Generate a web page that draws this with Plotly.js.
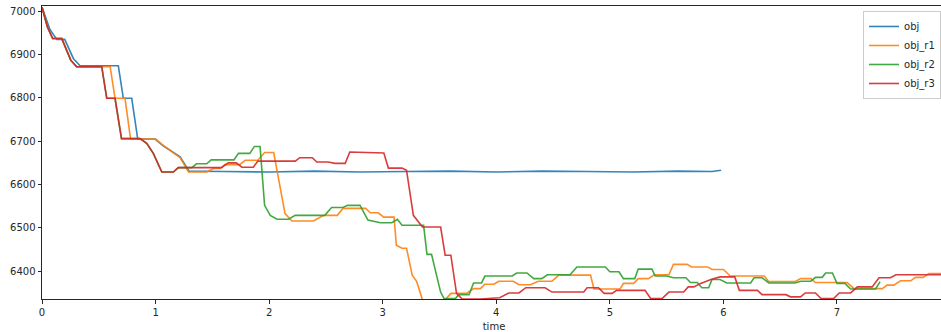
<!DOCTYPE html>
<html>
<head>
<meta charset="utf-8">
<script src="https://cdn.plot.ly/plotly-3.0.1.min.js"></script>
<style>
html,body{margin:0;padding:0;overflow:hidden;background:#fff;}
#chart{width:946px;height:332px;}
</style>
</head>
<body>
<div id="chart"></div>
<script>
// series names
const seriesNames = ["obj", "obj_r1", "obj_r2", "obj_r3"];
const seriesColors = ["#1f77b4", "#ff7f0e", "#2ca02c", "#d62728"];

// obj
const objT = [0, 0.07, 0.13, 0.2, 0.276, 0.335, 0.672, 0.716, 0.79, 0.843, 0.996, 1.07, 1.216, 1.295, 1.6, 2.0, 2.4, 2.8, 3.2, 3.6, 4.0, 4.4, 4.8, 5.2, 5.6, 5.9, 5.98];
const objV = [7009, 6958, 6935, 6935, 6891, 6874, 6874, 6799, 6799, 6705, 6705, 6689, 6664, 6631, 6630, 6629, 6631, 6629, 6630, 6631, 6629, 6631, 6630, 6629, 6631, 6630, 6633];

// obj_r1
const r1T = [0, 0.047, 0.094, 0.174, 0.253, 0.305, 0.6, 0.643, 0.731, 0.78, 1.0, 1.07, 1.216, 1.29, 1.45, 1.51, 1.57, 1.61, 1.74, 1.79, 1.9, 1.96, 2.04, 2.14, 2.2, 2.39, 2.48, 2.6, 2.65, 2.85, 2.89, 2.96, 3.01, 3.1, 3.12, 3.17, 3.21, 3.26, 3.3, 3.35, 3.55, 3.6, 3.74, 3.8, 3.86, 3.9, 3.98, 4.02, 4.15, 4.2, 4.3, 4.37, 4.49, 4.55, 4.83, 4.86, 5.09, 5.12, 5.21, 5.25, 5.34, 5.39, 5.52, 5.56, 5.68, 5.72, 5.86, 5.9, 6.0, 6.06, 6.36, 6.4, 6.63, 6.68, 6.77, 6.81, 7.09, 7.15, 7.4, 7.44, 7.5, 7.56, 7.65, 7.69, 7.76, 7.81, 7.96];
const r1V = [7009, 6964, 6937, 6937, 6887, 6872, 6872, 6799, 6799, 6705, 6705, 6690, 6662, 6629, 6629, 6637, 6637, 6646, 6646, 6656, 6656, 6674, 6674, 6533, 6516, 6516, 6529, 6529, 6545, 6545, 6535, 6535, 6525, 6525, 6460, 6453, 6453, 6391, 6376, 6334, 6334, 6349, 6349, 6360, 6360, 6370, 6370, 6377, 6377, 6369, 6369, 6377, 6377, 6391, 6391, 6359, 6359, 6372, 6372, 6383, 6383, 6392, 6392, 6416, 6416, 6410, 6410, 6404, 6404, 6389, 6389, 6376, 6376, 6383, 6383, 6374, 6374, 6360, 6360, 6368, 6368, 6378, 6378, 6386, 6386, 6395, 6395];

// obj_r2
const r2T = [0, 0.047, 0.094, 0.174, 0.253, 0.305, 0.526, 0.57, 0.643, 0.7, 0.863, 0.922, 0.98, 1.055, 1.157, 1.2, 1.32, 1.36, 1.45, 1.49, 1.69, 1.73, 1.83, 1.87, 1.92, 1.96, 2.01, 2.07, 2.17, 2.23, 2.49, 2.55, 2.65, 2.69, 2.8, 2.87, 2.98, 3.08, 3.13, 3.17, 3.36, 3.39, 3.43, 3.51, 3.54, 3.64, 3.67, 3.76, 3.8, 3.87, 3.9, 4.14, 4.18, 4.27, 4.33, 4.4, 4.45, 4.65, 4.71, 4.96, 5.0, 5.08, 5.12, 5.22, 5.25, 5.37, 5.4, 5.5, 5.56, 5.67, 5.71, 5.77, 5.81, 5.87, 5.9, 5.97, 6.03, 6.24, 6.27, 6.34, 6.4, 6.63, 6.68, 6.77, 6.81, 6.87, 6.9, 6.96, 7.0, 7.07, 7.12, 7.34, 7.38];
const r2V = [7009, 6964, 6937, 6937, 6887, 6872, 6872, 6799, 6799, 6706, 6706, 6695, 6672, 6629, 6629, 6639, 6639, 6648, 6648, 6657, 6657, 6672, 6672, 6688, 6688, 6552, 6529, 6520, 6520, 6529, 6529, 6547, 6547, 6552, 6552, 6518, 6512, 6512, 6520, 6506, 6506, 6439, 6439, 6352, 6337, 6337, 6346, 6346, 6373, 6373, 6389, 6389, 6396, 6396, 6383, 6383, 6392, 6392, 6410, 6410, 6399, 6399, 6383, 6383, 6405, 6405, 6389, 6389, 6385, 6385, 6374, 6374, 6362, 6362, 6381, 6381, 6373, 6373, 6385, 6385, 6373, 6373, 6377, 6377, 6386, 6386, 6396, 6396, 6372, 6372, 6359, 6359, 6376];

// obj_r3
const r3T = [0, 0.047, 0.094, 0.174, 0.253, 0.305, 0.526, 0.57, 0.643, 0.7, 0.863, 0.922, 0.98, 1.055, 1.157, 1.2, 1.58, 1.64, 1.71, 1.76, 1.86, 1.9, 2.23, 2.27, 2.38, 2.42, 2.52, 2.58, 2.67, 2.71, 3.01, 3.05, 3.17, 3.21, 3.27, 3.35, 3.51, 3.55, 3.6, 3.65, 3.7, 3.86, 4.03, 4.11, 4.2, 4.26, 4.43, 4.49, 4.77, 4.8, 4.9, 4.95, 5.02, 5.06, 5.31, 5.36, 5.46, 5.52, 5.65, 5.69, 5.74, 5.8, 5.89, 5.97, 6.1, 6.14, 6.3, 6.34, 6.55, 6.59, 6.68, 6.72, 6.81, 6.86, 6.97, 7.02, 7.12, 7.18, 7.31, 7.37, 7.47, 7.52, 7.96];
const r3V = [7009, 6964, 6937, 6937, 6887, 6872, 6872, 6799, 6799, 6706, 6706, 6695, 6672, 6629, 6629, 6639, 6639, 6650, 6650, 6640, 6640, 6654, 6654, 6662, 6662, 6652, 6652, 6649, 6649, 6675, 6673, 6638, 6638, 6633, 6529, 6502, 6502, 6437, 6437, 6349, 6336, 6336, 6339, 6350, 6350, 6362, 6362, 6352, 6352, 6362, 6362, 6349, 6349, 6356, 6356, 6337, 6337, 6352, 6352, 6364, 6364, 6372, 6381, 6387, 6387, 6356, 6356, 6346, 6346, 6341, 6341, 6350, 6350, 6337, 6337, 6350, 6350, 6364, 6364, 6385, 6385, 6392, 6392];

const xs = [objT, r1T, r2T, r3T];
const ys = [objV, r1V, r2V, r3V];

const traces = seriesNames.map((n, i) => ({
  type: "scatter", mode: "lines", name: n,
  x: xs[i], y: ys[i],
  line: {color: seriesColors[i], width: 1.6},
  opacity: 0.9
}));

const axisFont = {family: "DejaVu Sans, sans-serif", size: 10, color: "#262626"};

const layout = {
  width: 946, height: 332,
  margin: {l: 42, r: 0, t: 6, b: 33},
  paper_bgcolor: "#fff", plot_bgcolor: "#fff",
  font: axisFont,
  showlegend: true,
  legend: {
    x: 0.9945, xanchor: "right", y: 0.983, yanchor: "top",
    bgcolor: "rgba(255,255,255,0.8)", bordercolor: "#cccccc", borderwidth: 1,
    font: {family: "DejaVu Sans, sans-serif", size: 10, color: "#262626"},
    itemwidth: 30, tracegroupgap: 0
  },
  xaxis: {
    range: [0, 7.96], tickvals: [0,1,2,3,4,5,6,7], ticktext: ["0","1","2","3","4","5","6","7"],
    showgrid: false, zeroline: false, showline: true, linecolor: "#262626", linewidth: 1, mirror: true,
    ticks: "outside", ticklen: 3.5, tickwidth: 1, tickcolor: "#262626",
    tickfont: axisFont,
    title: {text: "time", font: axisFont, standoff: 7}
  },
  yaxis: {
    range: [6336, 7012], tickvals: [6400,6500,6600,6700,6800,6900,7000],
    ticktext: ["6400","6500","6600","6700","6800","6900","7000"],
    showgrid: false, zeroline: false, showline: true, linecolor: "#262626", linewidth: 1, mirror: true,
    ticks: "outside", ticklen: 3.5, tickwidth: 1, tickcolor: "#262626",
    tickfont: axisFont
  }
};

Plotly.newPlot("chart", traces, layout, {displayModeBar: false, staticPlot: true});
</script>
</body>
</html>
